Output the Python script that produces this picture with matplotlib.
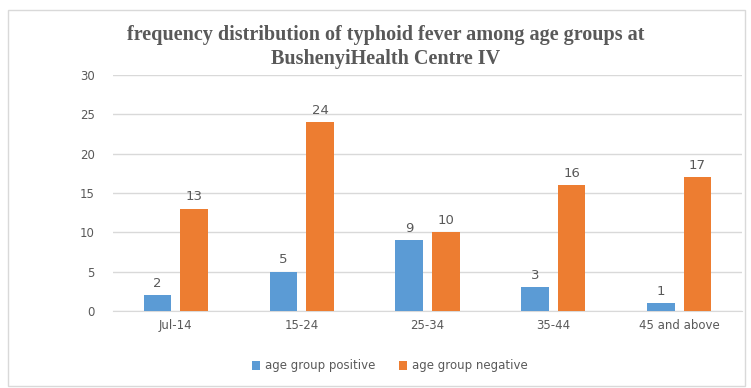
import matplotlib
matplotlib.use("Agg")
import matplotlib.pyplot as plt
import numpy as np
from matplotlib.patches import Rectangle

categories = ["Jul-14", "15-24", "25-34", "35-44", "45 and above"]
positive = [2, 5, 9, 3, 1]
negative = [13, 24, 10, 16, 17]
series_names = ["age group positive", "age group negative"]
yticks = [0, 5, 10, 15, 20, 25, 30]

W, H = 751, 388
fig = plt.figure(figsize=(W / 100, H / 100), dpi=100)
fig.patch.set_facecolor("white")

# outer chart border
fig.patches.append(Rectangle((8 / W, 2 / H), 737 / W, 376 / H, transform=fig.transFigure,
                             fill=False, edgecolor="#D9D9D9", linewidth=1.0))

ax = fig.add_axes([113 / W, 1 - 311 / H, 629 / W, (311 - 75) / H])
x = np.arange(len(categories))
bw = 0.22
off = 0.145
blue = "#5B9BD5"
orange = "#ED7D31"
txt = "#595959"

b1 = ax.bar(x - off, positive, bw, color=blue, label=series_names[0], zorder=3)
b2 = ax.bar(x + off, negative, bw, color=orange, label=series_names[1], zorder=3)
for bars, vals in ((b1, positive), (b2, negative)):
    for r, v in zip(bars, vals):
        ax.annotate(str(v), (r.get_x() + r.get_width() / 2, v), xytext=(0, 4),
                    textcoords="offset points", ha="center", va="bottom",
                    fontsize=9.5, color=txt)

ax.set_xlim(-0.5, len(categories) - 0.5)
ax.set_ylim(0, 30)
ax.set_yticks(yticks)
ax.set_yticklabels([str(t) for t in yticks])
ax.set_xticks(x)
ax.set_xticklabels(categories)
ax.tick_params(axis="both", length=0, labelsize=8.5, colors=txt)
ax.tick_params(axis="y", pad=13)
ax.tick_params(axis="x", pad=6)
ax.grid(axis="y", color="#D9D9D9", linewidth=1.0, zorder=0)
for s in ["top", "right", "left"]:
    ax.spines[s].set_visible(False)
ax.spines["bottom"].set_color("#D9D9D9")

fig.text(386 / W, 1 - 47 / H,
         "frequency distribution of typhoid fever among age groups at\nBushenyiHealth Centre IV",
         ha="center", va="center", fontsize=14.5, fontweight="bold", color=txt,
         family="Liberation Serif", linespacing=1.25)

leg = fig.legend(loc="center", bbox_to_anchor=(390 / W, 1 - 366 / H), ncol=2, frameon=False,
                 fontsize=8.5, handlelength=0.7, handleheight=0.7, handletextpad=0.4,
                 columnspacing=2.0)
for t in leg.get_texts():
    t.set_color(txt)

fig.savefig("out.png", dpi=100)
